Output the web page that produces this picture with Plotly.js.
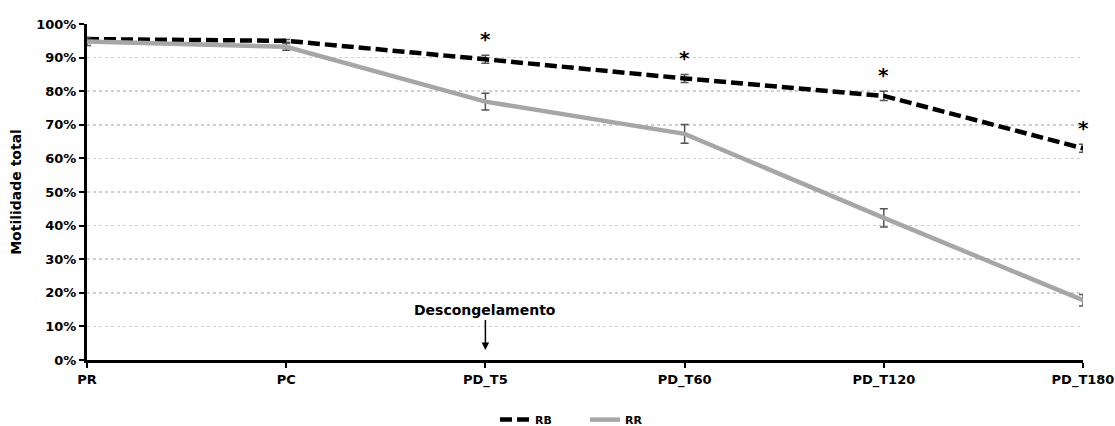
<!DOCTYPE html>
<html>
<head>
<meta charset="utf-8">
<script src="https://cdn.plot.ly/plotly-3.0.1.min.js"></script>
<style>
  html, body { margin: 0; padding: 0; background: #fff; }
  #chart { width: 1115px; height: 426px; }
</style>
</head>
<body>
<div id="chart"></div>
<script>
// Sampling moments
const stages = ['PR', 'PC', 'PD_T5', 'PD_T60', 'PD_T120', 'PD_T180'];

// Total motility (fraction) and standard error per group
const rbValues = [0.955, 0.950, 0.895, 0.838, 0.786, 0.630];
const rbErrors = [0.004, 0.004, 0.012, 0.012, 0.014, 0.012];
const rrValues = [0.948, 0.932, 0.769, 0.673, 0.423, 0.178];
const rrErrors = [0.012, 0.010, 0.025, 0.028, 0.027, 0.017];

// Stages with a significant difference between groups
const significant = ['PD_T5', 'PD_T60', 'PD_T120', 'PD_T180'];

const xs = stages.map((_, i) => i);
const font = { family: 'DejaVu Sans, Liberation Sans, sans-serif', color: '#000' };

const traces = [
  {
    x: xs, y: rbValues, name: 'RB', type: 'scatter', mode: 'lines',
    line: { color: '#000', width: 4.5, dash: '12px,5px' },
    error_y: { type: 'data', array: rbErrors, visible: true, color: '#555', thickness: 1.5, width: 4 }
  },
  {
    x: xs, y: rrValues, name: 'RR', type: 'scatter', mode: 'lines',
    line: { color: '#a6a6a6', width: 4.5 },
    error_y: { type: 'data', array: rrErrors, visible: true, color: '#555', thickness: 1.5, width: 4 }
  }
];

const annotations = significant.map(s => {
  const i = stages.indexOf(s);
  return {
    x: i, y: rbValues[i] + rbErrors[i], xref: 'x', yref: 'y',
    text: '*', showarrow: false, yanchor: 'bottom', yshift: 2,
    font: Object.assign({}, font, { size: 20, weight: 'bold' })
  };
});

// Thawing marker above PD_T5
annotations.push({
  x: stages.indexOf('PD_T5'), y: 0.03, xref: 'x', yref: 'y',
  ax: 0, ay: -30, axref: 'pixel', ayref: 'pixel',
  text: '<b>Descongelamento</b>', showarrow: true,
  arrowhead: 2, arrowsize: 1, arrowwidth: 1.5, arrowcolor: '#000',
  standoff: 0, yanchor: 'bottom',
  font: Object.assign({}, font, { size: 14 })
});

const layout = {
  width: 1115, height: 426,
  margin: { l: 87, r: 32, t: 24, b: 66, autoexpand: false },
  paper_bgcolor: '#fff', plot_bgcolor: '#fff',
  font: Object.assign({}, font, { size: 13, weight: 'bold' }),
  showlegend: true,
  legend: {
    orientation: 'h', x: 0.5, xanchor: 'center',
    yref: 'container', y: 0.015, yanchor: 'middle',
    font: Object.assign({}, font, { size: 11, weight: 'bold' }),
    entrywidth: 45, entrywidthmode: 'pixels',
    tracegroupgap: 0
  },
  xaxis: {
    range: [0, 5], tickvals: xs, ticktext: stages,
    showgrid: false, zeroline: false,
    showline: true, linecolor: '#000', linewidth: 3,
    ticks: 'outside', ticklen: 5, tickwidth: 2, tickcolor: '#000',
    tickfont: Object.assign({}, font, { size: 13, weight: 'bold' })
  },
  yaxis: {
    range: [0, 1], dtick: 0.1, tickformat: '.0%',
    showgrid: true, gridcolor: '#cfcfcf', gridwidth: 1.5, griddash: 'dot',
    zeroline: false,
    showline: true, linecolor: '#000', linewidth: 3,
    ticks: 'outside', ticklen: 5, tickwidth: 2, tickcolor: '#000',
    tickfont: Object.assign({}, font, { size: 13, weight: 'bold' }),
    title: { text: 'Motilidade total', standoff: 12, font: Object.assign({}, font, { size: 14, weight: 'bold' }) }
  },
  annotations: annotations
};

Plotly.newPlot('chart', traces, layout, { displayModeBar: false, staticPlot: true });
</script>
</body>
</html>
